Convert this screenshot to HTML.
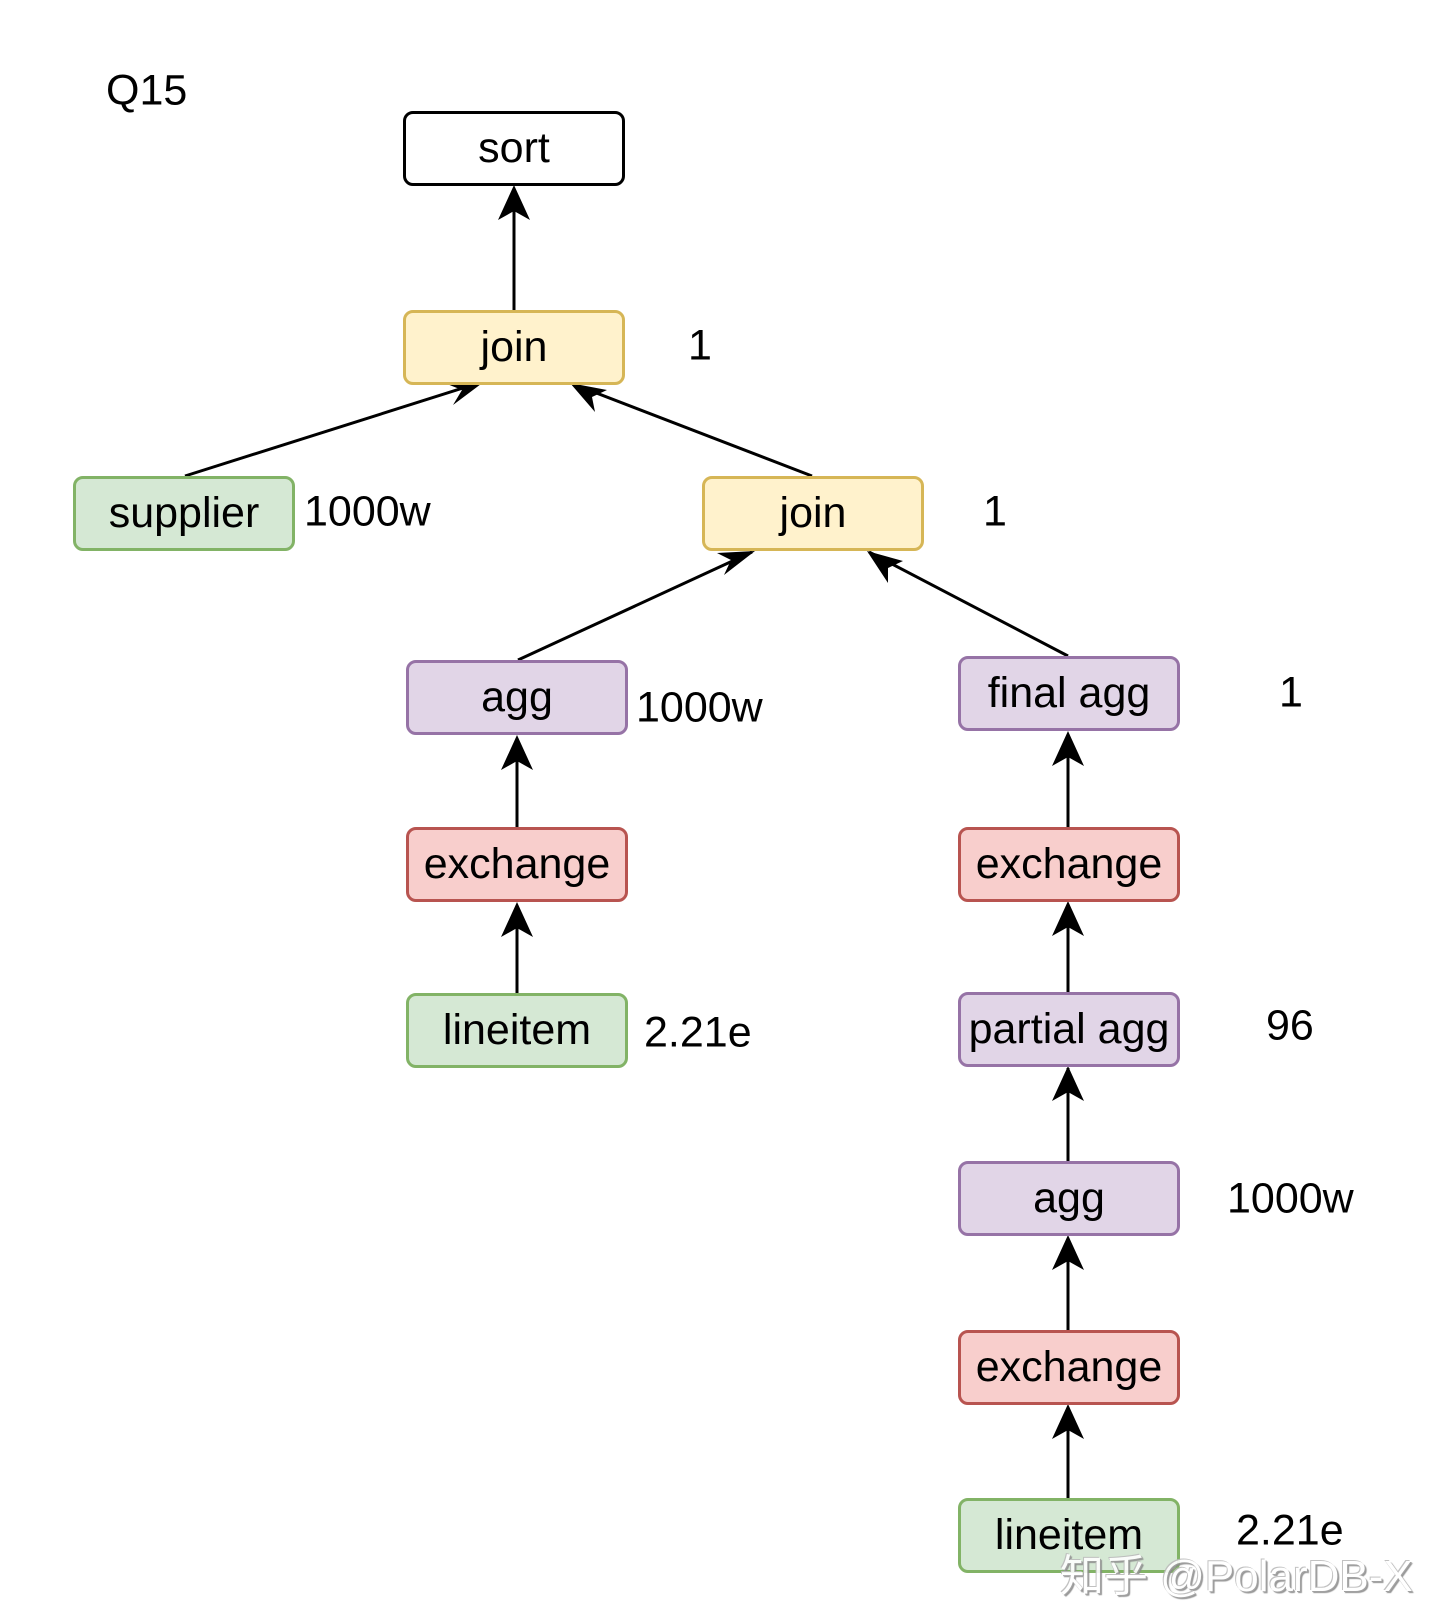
<!DOCTYPE html>
<html><head><meta charset="utf-8"><style>
body{margin:0;width:1440px;height:1624px;background:#fff;position:relative;overflow:hidden;font-family:"Liberation Sans",sans-serif}
.n{position:absolute;box-sizing:border-box;border:3px solid;border-radius:10px;display:flex;align-items:center;justify-content:center;font-size:43px;color:#000;width:222px;height:75px}
.y{background:#fff2cc;border-color:#d6b656}.g{background:#d5e8d4;border-color:#82b366}
.p{background:#e1d5e7;border-color:#9673a6}.r{background:#f8cecc;border-color:#b85450}
.w{background:#fff;border-color:#000}
.l{position:absolute;font-size:43px;line-height:1;transform:translateY(-50%)}
svg{position:absolute;left:0;top:0}
.wm{position:absolute;left:1060px;top:1540px;font-size:44px;color:#fff;font-family:"Liberation Sans","Noto Sans CJK SC",sans-serif;text-shadow:1px 1px 0 #999,-1px -1px 0 #bbb,2px 2px 1px #888;opacity:.9}
</style></head><body>
<svg width="1440" height="1624">
<g stroke="#000" stroke-width="3" fill="none">
<line x1="514" y1="310" x2="514" y2="188"/>
<line x1="185" y1="476" x2="482" y2="382"/>
<line x1="812" y1="476" x2="573" y2="384"/>
<line x1="518" y1="660" x2="752" y2="552"/>
<line x1="1068" y1="656" x2="869" y2="552"/>
<line x1="517" y1="827" x2="517" y2="738"/>
<line x1="517" y1="993" x2="517" y2="905"/>
<line x1="1068" y1="827" x2="1068" y2="734"/>
<line x1="1068" y1="992" x2="1068" y2="904"/>
<line x1="1068" y1="1161" x2="1068" y2="1068"/>
<line x1="1068" y1="1330" x2="1068" y2="1238"/>
<line x1="1068" y1="1498" x2="1068" y2="1407"/>
</g>
<g fill="#000">
<polygon points="514,185 498,220 514,211 530,220"/>
<polygon points="485,381 447,384 462,390 453,405"/>
<polygon points="570,383 595,412 592,397 607,390"/>
<polygon points="755,551 717,553 731,560 724,575"/>
<polygon points="867,551 888,583 888,568 903,561"/>
<polygon points="517,735 501,770 517,761 533,770"/>
<polygon points="517,902 501,937 517,928 533,937"/>
<polygon points="1068,731 1052,766 1068,757 1084,766"/>
<polygon points="1068,901 1052,936 1068,927 1084,936"/>
<polygon points="1068,1066 1052,1101 1068,1092 1084,1101"/>
<polygon points="1068,1235 1052,1270 1068,1261 1084,1270"/>
<polygon points="1068,1404 1052,1439 1068,1430 1084,1439"/>
</g>
</svg>
<div class="l" style="left:106px;top:91px;font-size:43px">Q15</div>
<div class="n w" style="left:403px;top:111px">sort</div>
<div class="n y" style="left:403px;top:310px">join</div>
<div class="n g" style="left:73px;top:476px">supplier</div>
<div class="n y" style="left:702px;top:476px">join</div>
<div class="n p" style="left:406px;top:660px">agg</div>
<div class="n p" style="left:958px;top:656px">final agg</div>
<div class="n r" style="left:406px;top:827px">exchange</div>
<div class="n r" style="left:958px;top:827px">exchange</div>
<div class="n g" style="left:406px;top:993px">lineitem</div>
<div class="n p" style="left:958px;top:992px">partial agg</div>
<div class="n p" style="left:958px;top:1161px">agg</div>
<div class="n r" style="left:958px;top:1330px">exchange</div>
<div class="n g" style="left:958px;top:1498px">lineitem</div>
<div class="l" style="left:688px;top:346px">1</div>
<div class="l" style="left:304px;top:512px">1000w</div>
<div class="l" style="left:983px;top:512px">1</div>
<div class="l" style="left:636px;top:708px">1000w</div>
<div class="l" style="left:1279px;top:693px">1</div>
<div class="l" style="left:644px;top:1033px">2.21e</div>
<div class="l" style="left:1266px;top:1026px">96</div>
<div class="l" style="left:1227px;top:1199px">1000w</div>
<div class="l" style="left:1236px;top:1531px">2.21e</div>
<div class="wm">知乎 @PolarDB-X</div>
</body></html>
